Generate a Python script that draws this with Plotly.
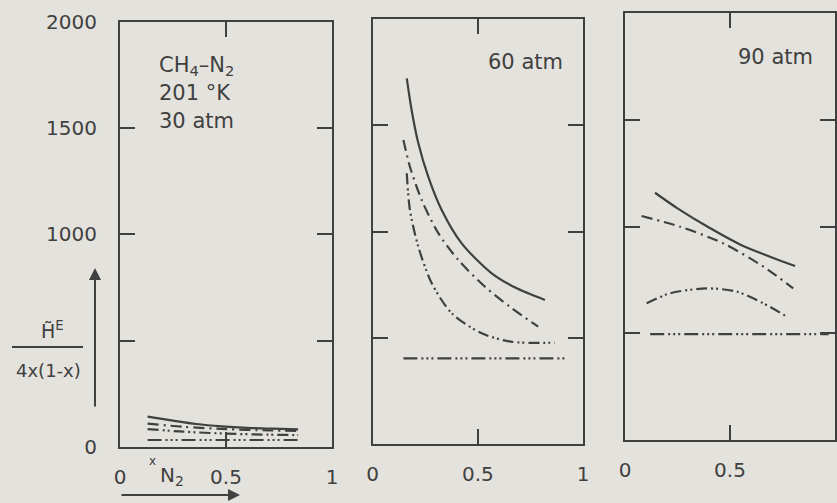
import plotly.graph_objects as go

W, H = 837, 503

# ---------------- data ----------------
x_tickvals = [0, 0.5, 1]
x_ticktext = ["0", "0.5", "1"]
y_tickvals = [0, 500, 1000, 1500, 2000]
y_ticktext = ["0", "", "1000", "1500", "2000"]

panel_labels = ["CH<sub>4</sub>–N<sub>2</sub>", "201 °K", "30 atm", "60 atm", "90 atm"]

# 30 atm
p1_solid_x = [0.13, 0.25, 0.36, 0.48, 0.60, 0.72, 0.84]
p1_solid_y = [143, 124, 108, 97, 90, 86, 83]
p1_dashdot_x = [0.13, 0.30, 0.50, 0.70, 0.84]
p1_dashdot_y = [110, 95, 84, 78, 76]
p1_dashdotdot_x = [0.13, 0.30, 0.50, 0.70, 0.84]
p1_dashdotdot_y = [84, 72, 63, 58, 56]
p1_flat_x = [0.13, 0.84]
p1_flat_y = [33, 33]

# 60 atm
p2_solid_x = [0.162, 0.185, 0.217, 0.264, 0.328, 0.423, 0.566, 0.68, 0.819]
p2_solid_y = [1721, 1572, 1415, 1258, 1101, 944, 803, 735, 678]
p2_dashdot_x = [0.146, 0.177, 0.233, 0.312, 0.407, 0.534, 0.66, 0.787]
p2_dashdot_y = [1431, 1305, 1148, 992, 866, 740, 640, 552]
p2_dashdotdot_x = [0.162, 0.177, 0.217, 0.281, 0.376, 0.518, 0.661, 0.867]
p2_dashdotdot_y = [1274, 1101, 928, 756, 615, 521, 481, 477]
p2_flat_x = [0.146, 0.922]
p2_flat_y = [403, 403]

# 90 atm
p3_solid_x = [0.143, 0.25, 0.40, 0.55, 0.70, 0.81]
p3_solid_y = [1158, 1085, 995, 915, 855, 815]
p3_dashdot_x = [0.079, 0.262, 0.468, 0.659, 0.801]
p3_dashdot_y = [1049, 999, 921, 812, 710]
p3_dashdotdot_x = [0.103, 0.214, 0.389, 0.532, 0.659, 0.77]
p3_dashdotdot_y = [640, 687, 710, 695, 640, 578]
p3_flat_x = [0.12, 0.97]
p3_flat_y = [496, 496]

# ---------------- style ----------------
BG = "#e4e2dc"
INK = "#404040"
FONT = "DejaVu Sans"
LW = 2.2
DASH = {
    "solid": "solid",
    "dashdot": "11px,5px,2px,5px",
    "dashdotdot": "11px,4px,2px,3px,2px,4px",
    "flat": "14px,4px,2px,3px,2px,3px,2px,4px",
}


def px(X):
    return X / W


def py(Y):
    return 1 - Y / H


fig = go.Figure()

panels = [
    ("x", "y", [(p1_solid_x, p1_solid_y, "solid"), (p1_dashdot_x, p1_dashdot_y, "dashdot"),
                (p1_dashdotdot_x, p1_dashdotdot_y, "dashdotdot"), (p1_flat_x, p1_flat_y, "flat")]),
    ("x2", "y2", [(p2_solid_x, p2_solid_y, "solid"), (p2_dashdot_x, p2_dashdot_y, "dashdot"),
                  (p2_dashdotdot_x, p2_dashdotdot_y, "dashdotdot"), (p2_flat_x, p2_flat_y, "flat")]),
    ("x3", "y3", [(p3_solid_x, p3_solid_y, "solid"), (p3_dashdot_x, p3_dashdot_y, "dashdot"),
                  (p3_dashdotdot_x, p3_dashdotdot_y, "dashdotdot"), (p3_flat_x, p3_flat_y, "flat")]),
]

for xa, ya, series in panels:
    for sx, sy, style in series:
        fig.add_trace(go.Scatter(
            x=sx, y=sy, xaxis=xa, yaxis=ya, mode="lines",
            line=dict(color=INK, width=LW, dash=DASH[style],
                      shape="spline" if len(sx) > 2 else "linear", smoothing=0.8),
            showlegend=False, hoverinfo="skip"))

# panel pixel geometry (left, right, top, bottom)
geom = [(120, 332, 21.7, 447), (372.7, 583, 19, 444), (625, 835, 13, 440)]

axis_common = dict(showline=True, linecolor=INK, linewidth=2, mirror="ticks",
                   ticks="inside", ticklen=15, tickwidth=2, tickcolor=INK,
                   showgrid=False, zeroline=False,
                   tickfont=dict(family=FONT, size=20, color=INK))

layout = dict(
    width=W, height=H, margin=dict(l=0, r=0, t=0, b=0),
    paper_bgcolor=BG, plot_bgcolor=BG, template="none",
    font=dict(family=FONT, color=INK), showlegend=False,
)

for i, (l, r, t, b) in enumerate(geom):
    sfx = "" if i == 0 else str(i + 1)
    xname = "x" + sfx
    yname = "y" + sfx
    layout["xaxis" + sfx] = dict(
        axis_common, domain=[px(l), px(r)], anchor=yname, range=[0, 1],
        tickvals=x_tickvals, ticktext=x_ticktext, ticklabelstandoff=11)
    layout["yaxis" + sfx] = dict(
        axis_common, domain=[py(b), py(t)], anchor=xname, range=[0, 2000],
        tickvals=y_tickvals, ticktext=y_ticktext, showticklabels=(i == 0),
        ticklabelstandoff=17)

fig.update_layout(**layout)

ann = []
# panel texts
ann.append(dict(x=px(157), y=py(66), text=panel_labels[0], xanchor="left", yanchor="middle"))
ann.append(dict(x=px(157), y=py(93), text=panel_labels[1], xanchor="left", yanchor="middle"))
ann.append(dict(x=px(157), y=py(121), text=panel_labels[2], xanchor="left", yanchor="middle"))
ann.append(dict(x=px(525), y=py(62), text=panel_labels[3], xanchor="center", yanchor="middle"))
ann.append(dict(x=px(775), y=py(57), text=panel_labels[4], xanchor="center", yanchor="middle"))
for a in ann:
    a.update(xref="paper", yref="paper", showarrow=False,
             font=dict(family=FONT, size=21, color=INK))

# y-axis label (fraction)
ann.append(dict(x=px(52), y=py(330), xref="paper", yref="paper", showarrow=False,
                text="H\u0303<sup>E</sup>", xanchor="center", yanchor="middle",
                font=dict(family=FONT, size=19, color=INK)))
ann.append(dict(x=px(48), y=py(370), xref="paper", yref="paper", showarrow=False,
                text="4x(1-x)", xanchor="center", yanchor="middle",
                font=dict(family=FONT, size=18, color=INK)))
# x-axis label
ann.append(dict(x=px(152), y=py(461), xref="paper", yref="paper", showarrow=False,
                text="x", xanchor="center", yanchor="middle",
                font=dict(family=FONT, size=12, color=INK)))
ann.append(dict(x=px(158), y=py(476), xref="paper", yref="paper", showarrow=False,
                text="N<sub>2</sub>", xanchor="left", yanchor="middle",
                font=dict(family=FONT, size=20, color=INK)))
# arrows
ann.append(dict(x=px(95), y=py(268), xref="paper", yref="paper", text="",
                showarrow=True, ax=0, ay=140, arrowhead=2, arrowsize=1.2,
                arrowwidth=2, arrowcolor=INK))
ann.append(dict(x=px(240), y=py(495), xref="paper", yref="paper", text="",
                showarrow=True, ax=-120, ay=0, arrowhead=2, arrowsize=1.2,
                arrowwidth=2, arrowcolor=INK))

fig.update_layout(annotations=ann)
fig.add_shape(type="line", xref="paper", yref="paper",
              x0=px(12), x1=px(83), y0=py(347), y1=py(347),
              line=dict(color=INK, width=2))

fig.write_html("out.html")
